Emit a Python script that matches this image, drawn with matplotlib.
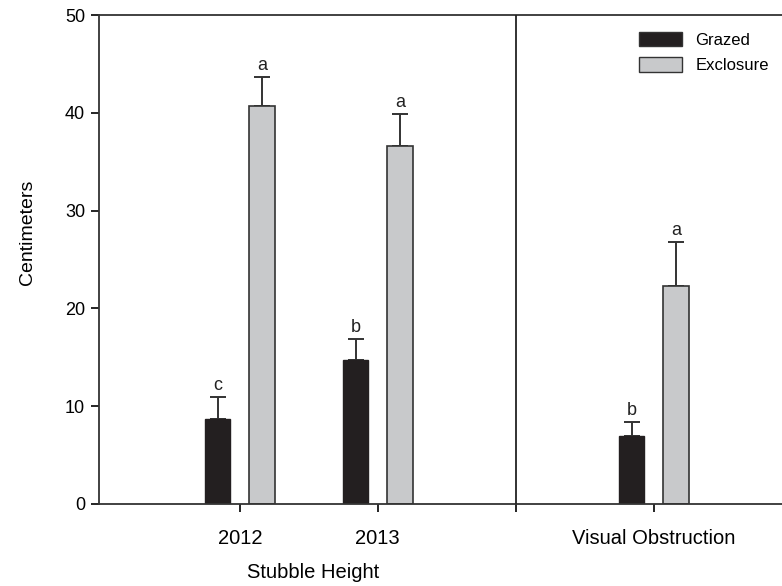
import numpy as np
from matplotlib import pyplot as plt
from matplotlib.patches import Patch

plt.rcParams['font.family'] = ['Liberation Sans', 'DejaVu Sans']

# Hauteur de chaume (2012, 2013) et obstruction visuelle
positions = [1, 2, 4]
tick_labels = ['2012', '2013', 'Visual Obstruction']
grazed = [8.7, 14.7, 7.0]
grazed_err = [2.2, 2.2, 1.4]
grazed_letters = ['c', 'b', 'b']
exclosure = [40.7, 36.6, 22.3]
exclosure_err = [3.0, 3.3, 4.5]
exclosure_letters = ['a', 'a', 'a']

width = 0.185
offset = 0.16

fig = plt.figure(figsize=(7.82, 5.86), dpi=100)
ax = fig.add_axes([99 / 782, 82 / 586, 690 / 782, 489 / 586])

pos = np.array(positions, dtype=float)
ax.bar(pos - offset, grazed, width, color='#231f20', edgecolor='#231f20', linewidth=1, zorder=2)
ax.bar(pos + offset, exclosure, width, color='#c8c9cb', edgecolor='#333333', linewidth=1.2, zorder=2)

# barres d'erreur vers le haut seulement
ax.errorbar(pos - offset, grazed, yerr=[np.zeros(3), grazed_err], fmt='none',
            ecolor='#333333', elinewidth=1.4, capsize=5.8, capthick=1.4, zorder=1)
ax.errorbar(pos + offset, exclosure, yerr=[np.zeros(3), exclosure_err], fmt='none',
            ecolor='#333333', elinewidth=1.4, capsize=5.8, capthick=1.4, zorder=1)

for x, h, e, s in zip(pos - offset, grazed, grazed_err, grazed_letters):
    ax.text(x, h + e + 0.3, s, ha='center', va='bottom', fontsize=13, color='#222222')
for x, h, e, s in zip(pos + offset, exclosure, exclosure_err, exclosure_letters):
    ax.text(x, h + e + 0.3, s, ha='center', va='bottom', fontsize=13, color='#222222')

# séparation entre les deux mesures
ax.axvline(3, color='#222222', linewidth=1.3, zorder=3)

ax.set_xlim(-0.02, 4.98)
ax.set_ylim(0, 50)
ax.set_yticks([0, 10, 20, 30, 40, 50])
ax.set_xticks([1, 2, 3, 4])
ax.set_xticklabels(['2012', '2013', '', 'Visual Obstruction'], fontsize=14.5)
ax.tick_params(axis='y', labelsize=13, direction='out', length=6, width=1.2, pad=4)
ax.tick_params(axis='x', direction='out', length=6, width=1.2, pad=12)

for side in ['left', 'bottom', 'top']:
    ax.spines[side].set_linewidth(1.3)
    ax.spines[side].set_color('#333333')
ax.spines['right'].set_visible(False)

ax.set_ylabel('Centimeters', fontsize=14)
ax.yaxis.set_label_coords(-0.091, 0.556)
fig.text(313 / 782, 1 - 573 / 586, 'Stubble Height', ha='center', va='center', fontsize=14.5)

handles = [Patch(facecolor='#231f20', edgecolor='#333333', label='Grazed'),
           Patch(facecolor='#c8c9cb', edgecolor='#333333', label='Exclosure')]
ax.legend(handles=handles, loc='upper left', bbox_to_anchor=(0.765, 0.99), frameon=False,
          fontsize=12, handlelength=2.6, handleheight=1.0, handletextpad=0.8, labelspacing=0.55,
          borderaxespad=0.3)

fig.savefig('out.png', dpi=100)
